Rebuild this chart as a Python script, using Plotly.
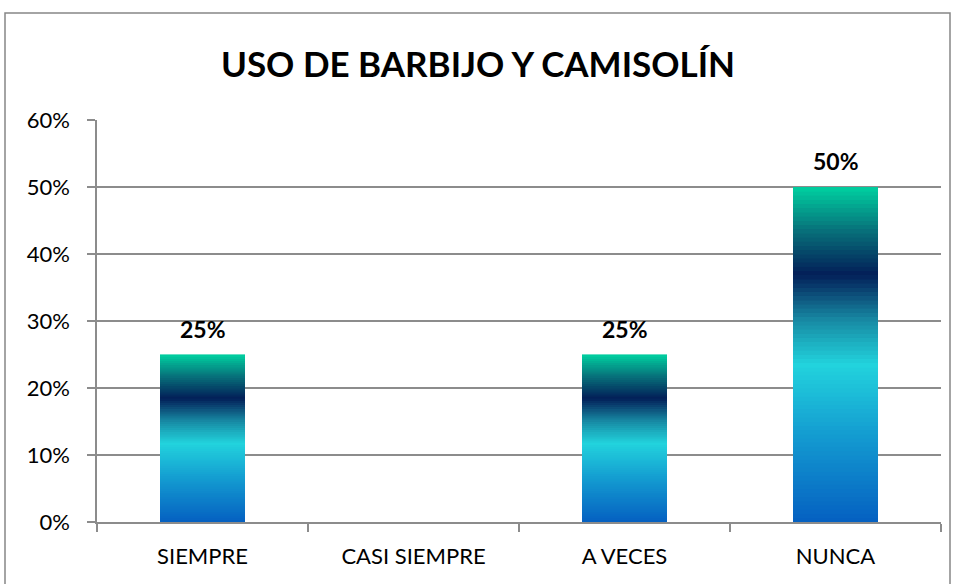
import plotly.graph_objects as go

categories = ["SIEMPRE", "CASI SIEMPRE", "A VECES", "NUNCA"]
values = [0.25, 0.0, 0.25, 0.50]
label_texts = ["25%", "", "25%", "50%"]
y_ticks = [0, 0.1, 0.2, 0.3, 0.4, 0.5, 0.6]
y_tick_labels = ["0%", "10%", "20%", "30%", "40%", "50%", "60%"]
title_text = "USO DE BARBIJO Y CAMISOLÍN"

# gradient stops (fraction of bar height from bottom, colour)
grad_stops = [
    (0.00, (5, 96, 193)),
    (0.25, (19, 153, 208)),
    (0.47, (34, 211, 221)),
    (0.60, (24, 140, 165)),
    (0.74, (3, 31, 88)),
    (0.87, (7, 112, 122)),
    (1.00, (0, 208, 160)),
]

def grad_color(t):
    for (t0, c0), (t1, c1) in zip(grad_stops[:-1], grad_stops[1:]):
        if t <= t1:
            f = (t - t0) / (t1 - t0) if t1 > t0 else 0
            c = [round(a + (b - a) * f) for a, b in zip(c0, c1)]
            return "rgb(%d,%d,%d)" % tuple(c)
    return "rgb(%d,%d,%d)" % grad_stops[-1][1]

FONT = "Lato, Carlito, sans-serif"
N = 80
fig = go.Figure()
for i in range(N):
    t = (i + 0.5) / N
    col = grad_color(t)
    fig.add_trace(go.Bar(
        x=categories,
        y=[v / N for v in values],
        marker=dict(color=col, line=dict(color=col, width=0.6)),
        width=0.4,
        showlegend=False,
        hoverinfo="skip",
    ))

for c, v, txt in zip(categories, values, label_texts):
    if txt:
        fig.add_annotation(x=c, y=v, text="<b>%s</b>" % txt, showarrow=False,
                           yanchor="bottom", yshift=10,
                           font=dict(family=FONT, size=23, color="black"))

fig.update_layout(
    barmode="stack",
    bargap=0.6,
    width=956, height=584,
    margin=dict(l=97, r=15, t=120, b=62),
    paper_bgcolor="white", plot_bgcolor="white",
    title=dict(text="<b>%s</b>" % title_text, x=0.5, xanchor="center",
               y=1 - 65 / 584, yanchor="middle",
               font=dict(family=FONT, size=35, color="black")),
    font=dict(family=FONT, size=22, color="black"),
)
fig.update_xaxes(type="category", categoryorder="array", categoryarray=categories,
                 showline=True, linecolor="#8c8c8c", linewidth=1.5,
                 ticks="outside", ticklen=8, tickcolor="#8c8c8c", tickwidth=1.5,
                 tickson="boundaries", showgrid=False, ticklabelstandoff=14,
                 tickfont=dict(size=22), range=[-0.5, 3.5])
fig.update_yaxes(range=[0, 0.6], tickvals=y_ticks, ticktext=y_tick_labels,
                 showline=True, linecolor="#8c8c8c", linewidth=1.5,
                 ticks="outside", ticklen=8, tickcolor="#8c8c8c", tickwidth=1.5,
                 showgrid=True, gridcolor="#8c8c8c", gridwidth=1.5,
                 ticklabelstandoff=13,
                 zeroline=False, tickfont=dict(size=22))

fig.add_shape(type="rect", xref="paper", yref="paper",
              x0=(5 - 97) / 844, x1=(950 - 97) / 844,
              y0=(522 - 600) / 402, y1=(522 - 13) / 402,
              line=dict(color="#868686", width=1.5), fillcolor="rgba(0,0,0,0)",
              layer="below")

fig.write_html("out.html", config={"displayModeBar": False},
               post_script="document.body.style.margin='0';")
